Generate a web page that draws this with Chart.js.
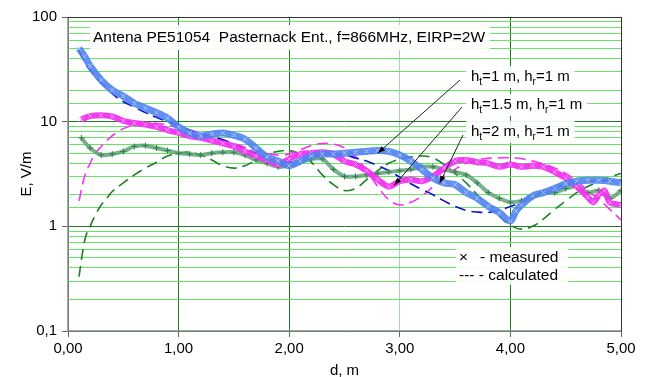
<!DOCTYPE html>
<html>
<head>
<meta charset="utf-8">
<script src="https://cdn.jsdelivr.net/npm/chart.js@4.4.0/dist/chart.umd.min.js"></script>
<style>
  html, body { margin: 0; padding: 0; background: #fff; }
</style>
</head>
<body>
<canvas id="chart" width="653" height="377"></canvas>
<script>
// measured, h_t = 1 m
const dMeas1 = [0.1,0.15,0.2,0.3,0.4,0.5,0.6,0.7,0.8,0.9,1.0,1.1,1.2,1.3,1.4,1.5,1.6,1.7,1.8,1.9,2.0,2.1,2.2,2.3,2.4,2.5,2.6,2.7,2.8,2.9,3.0,3.1,3.2,3.3,3.4,3.5,3.6,3.7,3.8,3.9,4.0,4.05,4.1,4.2,4.3,4.4,4.5,4.6,4.7,4.8,4.9,5.0];
const eMeas1 = [50,42,34,25,20,17.5,15,13.5,12.2,10.8,8.9,7.8,7.3,7.6,7.8,7.4,6.8,5.6,4.6,4.2,3.8,4.2,4.7,4.9,4.9,5.0,5.1,5.2,5.3,5.2,4.8,4.2,3.5,2.9,2.6,2.5,2.1,1.85,1.55,1.35,1.12,1.4,1.6,1.95,2.1,2.3,2.55,2.7,2.75,2.75,2.7,2.6];
// measured, h_t = 1.5 m
const dMeas15 = [0.12,0.2,0.3,0.4,0.5,0.6,0.7,0.8,0.9,1.0,1.1,1.2,1.3,1.4,1.5,1.6,1.7,1.8,1.9,2.0,2.1,2.2,2.3,2.4,2.5,2.6,2.7,2.8,2.9,3.0,3.1,3.2,3.3,3.4,3.5,3.6,3.7,3.8,3.9,4.0,4.1,4.2,4.3,4.4,4.5,4.6,4.7,4.75,4.8,4.85,4.9,5.0];
const eMeas15 = [10.5,11.3,11.5,11.2,10.2,9.7,9.4,8.9,8.3,7.8,7.3,7.0,6.6,6.2,5.8,5.2,4.7,4.3,3.9,4.4,4.9,5.0,5.1,4.9,4.2,3.9,3.4,2.8,2.4,2.7,2.8,2.7,3.0,3.6,4.2,4.3,4.1,4.0,3.7,3.9,3.7,3.8,3.7,3.3,2.9,2.4,1.9,1.7,2.0,2.2,1.7,1.6];
// measured, h_t = 2 m
const dMeas2 = [0.12,0.2,0.3,0.4,0.5,0.6,0.7,0.8,0.9,1.0,1.1,1.2,1.3,1.4,1.5,1.6,1.7,1.8,1.9,2.0,2.1,2.2,2.3,2.4,2.5,2.6,2.7,2.8,2.9,3.0,3.1,3.2,3.3,3.4,3.5,3.6,3.7,3.8,3.9,4.0,4.1,4.2,4.3,4.4,4.5,4.6,4.7,4.8,4.9,5.0];
const eMeas2 = [7.0,5.6,4.8,4.9,5.2,5.8,5.9,5.6,5.3,5.0,4.9,4.8,5.0,5.1,5.1,4.8,4.3,4.0,3.7,3.8,4.1,4.4,4.4,3.5,3.0,3.0,3.1,3.2,3.3,3.4,3.5,3.7,3.7,3.5,3.3,3.1,2.6,2.1,1.85,1.7,1.75,1.9,2.1,2.1,2.3,2.4,2.1,2.2,1.85,2.2];

// calculated, h_t = 1 m
const dCalc1 = [0.1,0.15,0.2,0.3,0.4,0.5,0.6,0.7,0.8,0.9,1.0,1.1,1.2,1.3,1.4,1.5,1.6,1.7,1.8,1.9,2.0,2.1,2.2,2.3,2.4,2.5,2.6,2.7,2.8,2.9,3.0,3.1,3.2,3.3,3.4,3.5,3.6,3.7,3.8,3.9,4.0,4.1,4.2,4.3,4.4,4.5,4.6,4.7,4.8,4.9,5.0];
const eCalc1 = [48,37,31,23.5,18.5,15.5,13.8,12.2,11,10,9.2,8.3,7.6,7.2,6.7,6.1,5.5,5.0,4.5,4.2,4.1,4.3,4.6,4.8,4.9,4.8,4.5,4.2,3.8,3.4,2.95,2.55,2.25,2.0,1.75,1.55,1.42,1.37,1.36,1.42,1.55,1.7,1.9,2.15,2.35,2.5,2.6,2.68,2.72,2.74,2.75];
// calculated, h_t = 1.5 m
const dCalc15 = [0.1,0.15,0.2,0.25,0.3,0.35,0.45,0.55,0.7,0.85,1.0,1.2,1.4,1.6,1.8,1.95,2.1,2.25,2.4,2.55,2.7,2.8,2.9,3.0,3.1,3.2,3.3,3.4,3.5,3.6,3.75,3.9,4.05,4.2,4.35,4.5,4.6,4.7,4.8,4.9,5.0];
const eCalc15 = [1.75,3.0,4.0,5.0,5.8,6.6,8.0,9.0,9.7,9.5,8.8,7.8,6.7,5.7,5.0,4.8,5.4,6.1,6.1,5.2,3.4,2.4,1.8,1.6,1.7,1.95,2.4,3.0,3.5,4.0,4.4,4.5,4.5,4.2,3.8,3.2,2.7,2.2,1.8,1.45,1.15];
// calculated, h_t = 2 m
const dCalc2 = [0.1,0.13,0.16,0.2,0.25,0.3,0.35,0.4,0.5,0.6,0.7,0.8,0.9,1.0,1.1,1.2,1.3,1.4,1.5,1.6,1.7,1.8,1.9,2.0,2.1,2.2,2.3,2.4,2.5,2.6,2.7,2.8,2.9,3.0,3.1,3.2,3.3,3.4,3.5,3.6,3.7,3.8,3.9,4.0,4.1,4.2,4.3,4.4,4.5,4.6,4.7,4.8,4.9,5.0];
const eCalc2 = [0.33,0.55,0.8,1.0,1.3,1.6,1.85,2.15,2.6,3.1,3.6,4.1,4.7,5.0,5.1,4.8,4.3,3.8,3.6,3.8,4.3,4.9,5.2,5.3,4.9,4.1,3.1,2.5,2.2,2.3,2.8,3.4,4.0,4.4,4.6,4.7,4.5,3.9,3.2,2.6,2.0,1.55,1.25,1.02,0.94,1.0,1.18,1.45,1.75,2.1,2.4,2.65,2.95,3.2];

const xTicks = [0, 1, 2, 3, 4, 5];
const yDecades = [0.1, 1, 10, 100];

const FONT = '"Liberation Sans", Arial, sans-serif';
const pts = (d, e) => d.map((x, i) => ({ x, y: e[i] }));
const isDecade = v => Math.abs(Math.log10(v) - Math.round(Math.log10(v))) < 1e-6;

function measured(d, e, line, mark, style, w) {
  return {
    data: pts(d, e), borderColor: line, borderWidth: w, tension: 0.3,
    pointStyle: style, pointRadius: 3, pointBorderColor: mark, pointBorderWidth: 1,
    pointBackgroundColor: mark
  };
}
function calculated(d, e, color) {
  return {
    data: pts(d, e), borderColor: color, borderWidth: 1.6, borderDash: [11, 6],
    tension: 0.4, pointRadius: 0
  };
}

// text boxes, labels, arrows and frame
const decor = {
  id: 'decor',
  afterDatasetsDraw(chart) {
    const ctx = chart.ctx, a = chart.chartArea;
    const sx = chart.scales.x, sy = chart.scales.y;
    ctx.save();

    // title box
    ctx.font = '15.5px ' + FONT;
    const title = 'Antena PE51054  Pasternack Ent., f=866MHz, EIRP=2W';
    const tw = ctx.measureText(title).width;
    ctx.fillStyle = 'rgba(255,255,255,0.9)';
    ctx.fillRect(90, 25, tw + 8, 25);
    ctx.fillStyle = '#000';
    ctx.textBaseline = 'middle';
    ctx.fillText(title, 93, 38);

    // series labels with subscripts
    const labels = [['1', 77], ['1.5', 105], ['2', 132]];
    labels.forEach(([h, y]) => {
      const parts = [['h', 0], ['t', 1], ['=' + h + ' m, h', 0], ['r', 1], ['=1 m', 0]];
      let w = 0;
      parts.forEach(([t, s]) => { ctx.font = (s ? '10px ' : '15px ') + FONT; w += ctx.measureText(t).width; });
      ctx.fillStyle = 'rgba(255,255,255,0.9)';
      ctx.fillRect(466, y - 11, w + 10, 22);
      let x = 471;
      ctx.fillStyle = '#000';
      parts.forEach(([t, s]) => {
        ctx.font = (s ? '10px ' : '15px ') + FONT;
        ctx.fillText(t, x, s ? y + 5 : y);
        x += ctx.measureText(t).width;
      });
    });

    // arrows to the measured curves
    const arrows = [[460, 80, 2.80, 5.0], [462, 107, 2.95, 2.47], [463, 135, 3.36, 2.58]];
    ctx.strokeStyle = '#222'; ctx.fillStyle = '#000'; ctx.lineWidth = 1;
    arrows.forEach(([x0, y0, d, e]) => {
      const x1 = sx.getPixelForValue(d), y1 = sy.getPixelForValue(e);
      const ang = Math.atan2(y1 - y0, x1 - x0);
      ctx.beginPath(); ctx.moveTo(x0, y0); ctx.lineTo(x1, y1); ctx.stroke();
      ctx.beginPath();
      ctx.moveTo(x1, y1);
      ctx.lineTo(x1 - 8 * Math.cos(ang - 0.35), y1 - 8 * Math.sin(ang - 0.35));
      ctx.lineTo(x1 - 8 * Math.cos(ang + 0.35), y1 - 8 * Math.sin(ang + 0.35));
      ctx.closePath(); ctx.fill();
    });

    // legend text
    ctx.font = '15.5px ' + FONT;
    ctx.fillStyle = 'rgba(255,255,255,0.9)';
    ctx.fillRect(456, 247, 112, 38);
    ctx.fillStyle = '#000';
    ctx.fillText('\u00d7', 459, 258);
    ctx.fillText('- measured', 480, 258);
    ctx.fillText('--- - calculated', 459, 276);

    // frame
    ctx.strokeStyle = '#888'; ctx.lineWidth = 1.5;
    ctx.beginPath(); ctx.moveTo(a.left, a.top); ctx.lineTo(a.left, a.bottom); ctx.lineTo(a.right, a.bottom); ctx.stroke();
    ctx.strokeStyle = '#333'; ctx.lineWidth = 1;
    ctx.beginPath(); ctx.moveTo(a.left, a.top + 0.5); ctx.lineTo(a.right + 0.5, a.top + 0.5); ctx.lineTo(a.right + 0.5, a.bottom); ctx.stroke();
    ctx.restore();
  }
};

new Chart(document.getElementById('chart').getContext('2d'), {
  type: 'line',
  data: {
    datasets: [
      measured(dMeas1, eMeas1, 'rgba(80,130,240,0.9)', '#a8c4f8', 'crossRot', 7),
      measured(dMeas15, eMeas15, 'rgba(240,50,240,0.95)', '#ff9cff', 'crossRot', 6),
      measured(dMeas2, eMeas2, 'rgba(95,165,120,0.85)', '#2f7f4a', 'cross', 4),
      calculated(dCalc1, eCalc1, '#0c0cd0'),
      calculated(dCalc15, eCalc15, '#ff2cff'),
      calculated(dCalc2, eCalc2, '#1a8424')
    ]
  },
  options: {
    responsive: false,
    animation: false,
    layout: { padding: { left: 0, right: 32, top: 17, bottom: 0 } },
    plugins: { legend: { display: false }, tooltip: { enabled: false } },
    scales: {
      x: {
        type: 'linear', min: 0, max: 5,
        afterBuildTicks: s => { s.ticks = xTicks.map(v => ({ value: v })); },
        afterFit: s => { s.height = 46; },
        ticks: {
          color: '#000', font: { family: FONT, size: 15 }, padding: 3,
          callback: v => v.toFixed(2).replace('.', ',')
        },
        grid: {
          color: c => c.tick && c.tick.value === 3 ? '#a4d8a4' : '#1f7f1f',
          tickColor: '#666', tickLength: 6
        },
        border: { display: false },
        title: { display: true, text: 'd, m', color: '#000', font: { family: FONT, size: 15 }, padding: { top: 0, bottom: -3 } }
      },
      y: {
        type: 'logarithmic', min: 0.1, max: 100,
        afterFit: s => { s.width = 68; },
        ticks: {
          autoSkip: false, color: '#000', font: { family: FONT, size: 15 }, padding: 5,
          callback: v => isDecade(v) ? String(yDecades.find(t => Math.abs(t - v) < 1e-6 * t)).replace('.', ',') : ''
        },
        grid: {
          color: c => c.tick && isDecade(c.tick.value) ? '#1f7f1f' : '#66e466',
          tickColor: c => c.tick && isDecade(c.tick.value) ? '#666' : 'rgba(0,0,0,0)',
          tickLength: 6
        },
        border: { display: false },
        title: { display: true, text: 'E, V/m', color: '#000', font: { family: FONT, size: 15 }, padding: { top: 18, bottom: 0 } }
      }
    }
  },
  plugins: [decor]
});
</script>
</body>
</html>
